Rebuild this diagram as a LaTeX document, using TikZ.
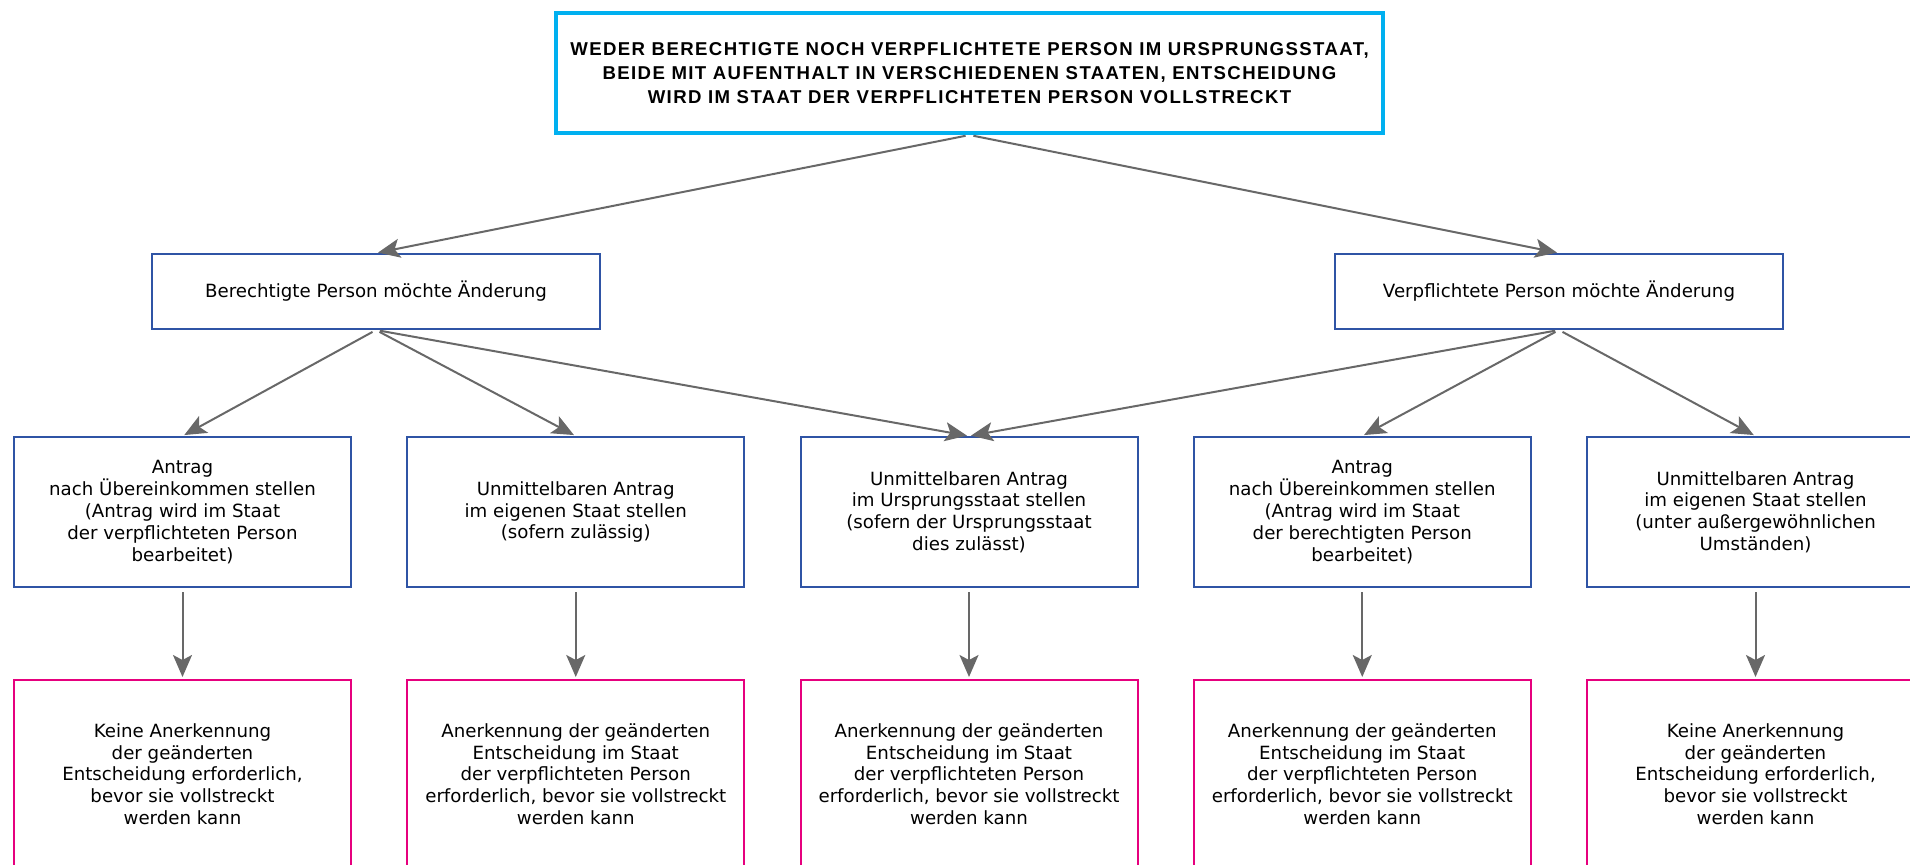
\documentclass[tikz,border=0pt]{standalone}
\usepackage{fontspec}
\setmainfont{DejaVu Sans}
\newfontfamily\titlefont[LetterSpace=7.5]{Liberation Sans}
\usetikzlibrary{arrows.meta}

\definecolor{titlecyan}{RGB}{0,176,240}
\definecolor{wishblue}{RGB}{47,84,165}
\definecolor{resultpink}{RGB}{230,0,126}
\definecolor{flowgray}{RGB}{104,104,104}

\begin{document}
\begin{tikzpicture}[x=0.5pt, y=-0.5pt,
    box/.style={draw, fill=white, align=center, inner sep=0pt,
        font=\fontsize{9.1}{10.9}\selectfont},
    titlebox/.style={box, draw=titlecyan, line width=2pt,
        minimum width=413.5pt, minimum height=60pt,
        font=\titlefont\bfseries\fontsize{9.3}{12}\selectfont},
    wish/.style={box, draw=wishblue, line width=1pt,
        minimum width=224pt, minimum height=37.5pt},
    request/.style={box, draw=wishblue, line width=1pt,
        minimum width=168.5pt, minimum height=75pt},
    result/.style={box, draw=resultpink, line width=1pt,
        minimum width=168.5pt, minimum height=94pt},
    flow/.style={-{Stealth[length=11pt, width=9.5pt, inset=2.5pt]},
        draw=flowgray, fill=flowgray, line width=1pt,
        shorten <=2pt, shorten >=1pt}]
    \useasboundingbox (0,0) rectangle (1910,864);

    % Nodes
    \node[titlebox] (title) at (969.5,73) {WEDER BERECHTIGTE NOCH VERPFLICHTETE PERSON IM URSPRUNGSSTAAT,\\
        BEIDE MIT AUFENTHALT IN VERSCHIEDENEN STAATEN, ENTSCHEIDUNG\\
        WIRD IM STAAT DER VERPFLICHTETEN PERSON VOLLSTRECKT};

    \node[wish] (ber) at (376,291.5) {Berechtigte Person möchte Änderung};
    \node[wish] (ver) at (1559,291.5) {Verpflichtete Person möchte Änderung};

    \node[request] (n1) at (182.5,512) {Antrag\\nach Übereinkommen stellen\\(Antrag wird im Staat\\der verpflichteten Person\\bearbeitet)};
    \node[request] (n2) at (575.75,512) {Unmittelbaren Antrag\\im eigenen Staat stellen\\(sofern zulässig)};
    \node[request] (n3) at (969,512) {Unmittelbaren Antrag\\im Ursprungsstaat stellen\\(sofern der Ursprungsstaat\\dies zulässt)};
    \node[request] (n4) at (1362.25,512) {Antrag\\nach Übereinkommen stellen\\(Antrag wird im Staat\\der berechtigten Person\\bearbeitet)};
    \node[request] (n5) at (1755.5,512) {Unmittelbaren Antrag\\im eigenen Staat stellen\\(unter außergewöhnlichen\\Umständen)};

    \node[result] (r1) at (182.5,774) {Keine Anerkennung\\der geänderten\\Entscheidung erforderlich,\\bevor sie vollstreckt\\werden kann};
    \node[result] (r2) at (575.75,774) {Anerkennung der geänderten\\Entscheidung im Staat\\der verpflichteten Person\\erforderlich, bevor sie vollstreckt\\werden kann};
    \node[result] (r3) at (969,774) {Anerkennung der geänderten\\Entscheidung im Staat\\der verpflichteten Person\\erforderlich, bevor sie vollstreckt\\werden kann};
    \node[result] (r4) at (1362.25,774) {Anerkennung der geänderten\\Entscheidung im Staat\\der verpflichteten Person\\erforderlich, bevor sie vollstreckt\\werden kann};
    \node[result] (r5) at (1755.5,774) {Keine Anerkennung\\der geänderten\\Entscheidung erforderlich,\\bevor sie vollstreckt\\werden kann};

    % Edges
    \draw[flow] (title.south) -- (ber.north);
    \draw[flow] (title.south) -- (ver.north);
    \foreach \t in {n1,n2,n3}
        \draw[flow] (ber.south) -- (\t.north);
    \foreach \t in {n3,n4,n5}
        \draw[flow] (ver.south) -- (\t.north);
    \foreach \i in {1,...,5}
        \draw[flow] (n\i.south) -- (r\i.north);
\end{tikzpicture}
\end{document}
